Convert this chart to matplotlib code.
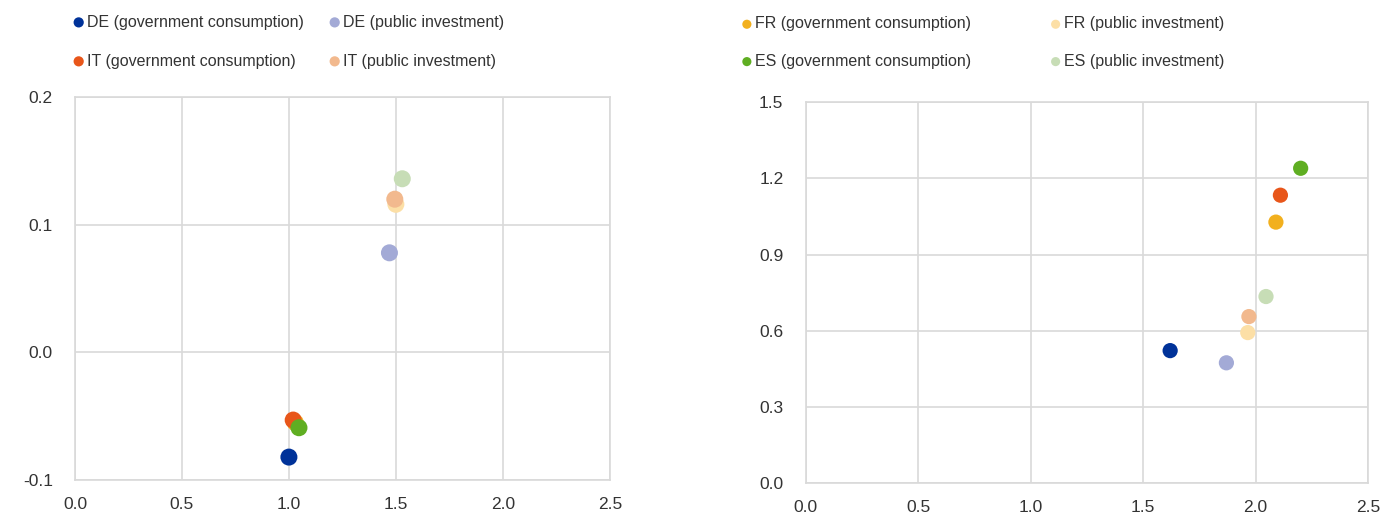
import matplotlib
matplotlib.use("Agg")
import matplotlib.pyplot as plt

plt.rcParams['font.family'] = ['Liberation Sans', 'DejaVu Sans']

# series labels and colours
names = ['DE (government consumption)', 'DE (public investment)',
         'FR (government consumption)', 'FR (public investment)',
         'IT (government consumption)', 'IT (public investment)',
         'ES (government consumption)', 'ES (public investment)']
colors = ['#003299', '#a3aad6', '#f2b01e', '#fcdfa6',
          '#e8561a', '#f2b98e', '#5fae22', '#c7ddb6']

# left panel values (x, y)
left_x = [1.00, 1.47, 1.03, 1.50, 1.02, 1.495, 1.047, 1.53]
left_y = [-0.082, 0.078, -0.055, 0.116, -0.053, 0.120, -0.059, 0.136]

# right panel values
right_x = [1.62, 1.87, 2.09, 1.965, 2.11, 1.97, 2.20, 2.046]
right_y = [0.522, 0.474, 1.028, 0.593, 1.134, 0.656, 1.24, 0.735]

xticks = [0.0, 0.5, 1.0, 1.5, 2.0, 2.5]
left_yticks = [-0.1, 0.0, 0.1, 0.2]
right_yticks = [0.0, 0.3, 0.6, 0.9, 1.2, 1.5]

fig = plt.figure(figsize=(13.89, 5.19), dpi=100)
ax1 = fig.add_axes([0.054, 0.075, 0.385, 0.738])
ax2 = fig.add_axes([0.580, 0.069, 0.405, 0.734])

grid_c = '#d9d9d9'


def style(ax, yticks, fmt):
    ax.set_xlim(0, 2.5)
    ax.set_ylim(yticks[0], yticks[-1])
    ax.set_xticks(xticks)
    ax.set_xticklabels([f'{v:.1f}' for v in xticks])
    ax.set_yticks(yticks)
    ax.set_yticklabels([fmt.format(v) for v in yticks])
    ax.grid(True, color=grid_c, linewidth=1.2)
    ax.set_axisbelow(True)
    for s in ax.spines.values():
        s.set_color(grid_c)
        s.set_linewidth(1.2)
    ax.tick_params(length=0, labelsize=12.5, colors='#333333')
    ax.tick_params(axis='x', pad=12)
    ax.tick_params(axis='y', pad=16)


handles1 = []
for i in range(8):
    h = ax1.scatter(left_x[i], left_y[i], s=150, color=colors[i],
                    edgecolors='none', zorder=3, label=names[i])
    handles1.append(h)
handles2 = []
for i in range(8):
    h = ax2.scatter(right_x[i], right_y[i], s=120, color=colors[i],
                    edgecolors='none', zorder=3, label=names[i])
    handles2.append(h)

style(ax1, left_yticks, '{:.1f}')
style(ax2, right_yticks, '{:.1f}')

leg_kw = dict(ncol=2, frameon=False, fontsize=11.5, loc='upper left',
              handletextpad=0.0, markerscale=0.6, handlelength=1.0,
              borderaxespad=0, labelcolor='#333333')
ax1.legend([handles1[0], handles1[4], handles1[1], handles1[5]],
           [names[0], names[4], names[1], names[5]],
           bbox_to_anchor=(-0.02, 1.232), columnspacing=1.45,
           labelspacing=1.5, **leg_kw)
ax2.legend([handles2[2], handles2[6], handles2[3], handles2[7]],
           [names[2], names[6], names[3], names[7]],
           bbox_to_anchor=(-0.13, 1.242), columnspacing=4.8,
           labelspacing=1.4, **leg_kw)

fig.savefig('out.png', dpi=100, facecolor='white')
